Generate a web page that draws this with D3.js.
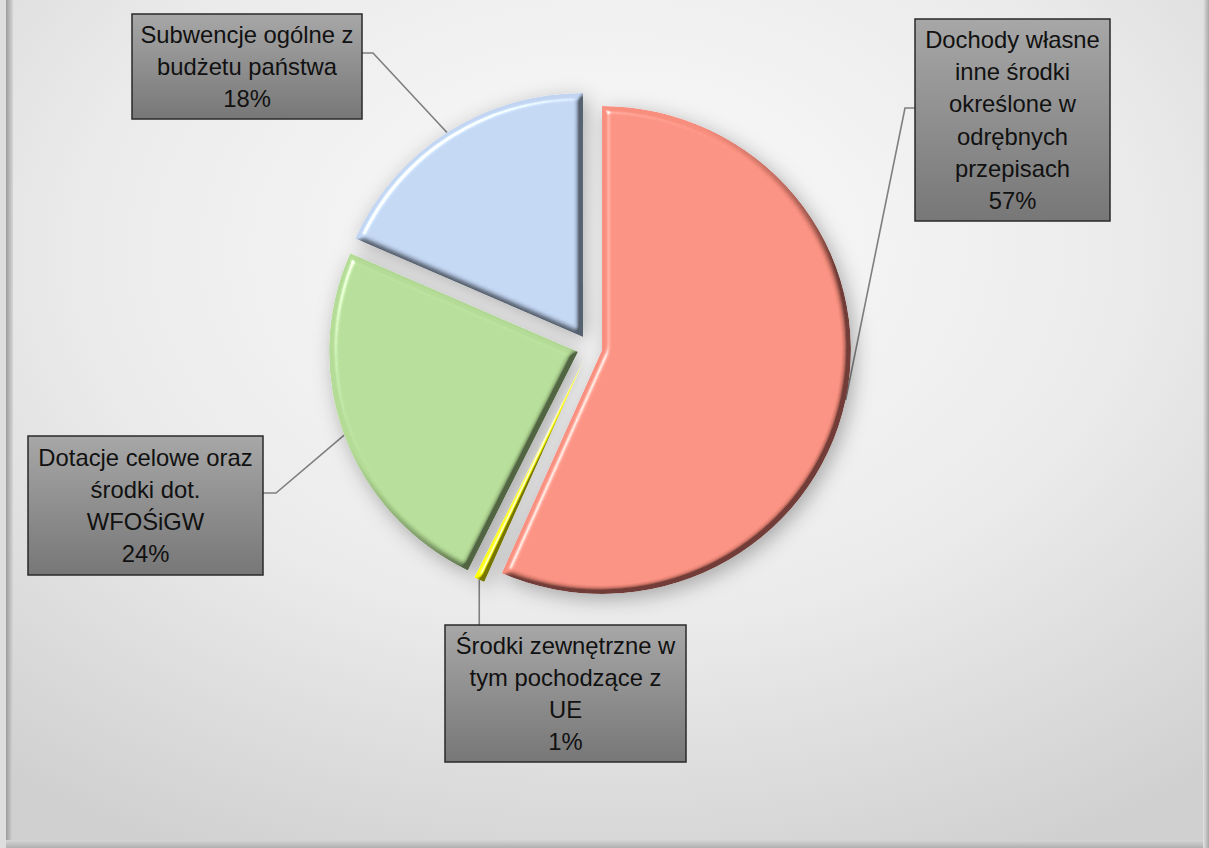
<!DOCTYPE html>
<html>
<head>
<meta charset="utf-8">
<script src="https://cdn.jsdelivr.net/npm/d3@7"></script>
<style>
  html, body { margin: 0; padding: 0; background: #fff; }
  svg { display: block; }
</style>
</head>
<body>
<svg id="chart" width="1209" height="848"></svg>
<script>
// ---- data ----
const categories = [
  "Dochody własne inne środki określone w odrębnych przepisach",
  "Środki zewnętrzne w tym pochodzące z UE",
  "Dotacje celowe oraz środki dot. WFOŚiGW",
  "Subwencje ogólne z budżetu państwa"
];
const labelLines = [
  ["Dochody własne", "inne środki", "określone w", "odrębnych", "przepisach"],
  ["Środki zewnętrzne w", "tym pochodzące z", "UE"],
  ["Dotacje celowe oraz", "środki dot.", "WFOŚiGW"],
  ["Subwencje ogólne z", "budżetu państwa"]
];
const values = [56.6, 0.7, 24.3, 18.4];
const colors = ["#F88E7E", "#FFFF00", "#B4DC96", "#C1D5F2"];

// ---- layout (not data) ----
const W = 1209, H = 848;
const center = [589.8, 347.4];
const radius = 244;
const xStretch = 1.02;
const explode = 12.5;
const boxes = [
  {x: 915, y: 19, w: 195, h: 202, ex: 905, ey: 108, sx: 915},
  {x: 445, y: 625, w: 241, h: 137, ex: null, ey: 625, sx: null},
  {x: 28,  y: 436, w: 235, h: 139, ex: 276, ey: 493, sx: 263},
  {x: 132, y: 14,  w: 230, h: 105, ex: 373, ey: 53, sx: 362}
];
const lineGap = 32.3;

const svg = d3.select("#chart");
const defs = svg.append("defs");

const bg = defs.append("radialGradient").attr("id", "bg")
  .attr("cx", "50%").attr("cy", "30%").attr("r", "80%");
bg.append("stop").attr("offset", "0%").attr("stop-color", "#fbfbfb");
bg.append("stop").attr("offset", "55%").attr("stop-color", "#ebebeb");
bg.append("stop").attr("offset", "100%").attr("stop-color", "#d0d0d0");

const leftEdge = defs.append("linearGradient").attr("id", "leftEdge")
  .attr("x1", 0).attr("x2", 1).attr("y1", 0).attr("y2", 0);
leftEdge.append("stop").attr("offset", "0%").attr("stop-color", "#9c9c9c");
leftEdge.append("stop").attr("offset", "100%").attr("stop-color", "#d6d6d6");
const rightEdge = defs.append("linearGradient").attr("id", "rightEdge")
  .attr("x1", 0).attr("x2", 1).attr("y1", 0).attr("y2", 0);
rightEdge.append("stop").attr("offset", "0%").attr("stop-color", "#e2e2e2");
rightEdge.append("stop").attr("offset", "100%").attr("stop-color", "#a8a8a8");
const bottomEdge = defs.append("linearGradient").attr("id", "bottomEdge")
  .attr("x1", 0).attr("x2", 0).attr("y1", 0).attr("y2", 1);
bottomEdge.append("stop").attr("offset", "0%").attr("stop-color", "#d6d6d6");
bottomEdge.append("stop").attr("offset", "100%").attr("stop-color", "#b0b0b0");

const boxG = defs.append("linearGradient").attr("id", "boxG")
  .attr("x1", 0).attr("x2", 0).attr("y1", 0).attr("y2", 1);
boxG.append("stop").attr("offset", "0%").attr("stop-color", "#a7a7a7");
boxG.append("stop").attr("offset", "100%").attr("stop-color", "#777777");

// bevel filter
const bev = defs.append("filter").attr("id", "bevel")
  .attr("x", "-10%").attr("y", "-10%").attr("width", "120%").attr("height", "120%");
bev.append("feGaussianBlur").attr("in", "SourceAlpha").attr("stdDeviation", 3.4).attr("result", "b");
const dl = bev.append("feDiffuseLighting").attr("in", "b").attr("surfaceScale", 8)
  .attr("diffuseConstant", 1 / Math.sin(35 * Math.PI / 180)).attr("lighting-color", "#fff").attr("result", "d");
dl.append("feDistantLight").attr("azimuth", 225).attr("elevation", 35);
bev.append("feComposite").attr("in", "SourceGraphic").attr("in2", "d").attr("operator", "arithmetic")
  .attr("k1", 0.82).attr("k2", 0.18).attr("k3", 0).attr("k4", 0).attr("result", "shade");
const sl = bev.append("feSpecularLighting").attr("in", "b").attr("surfaceScale", 8)
  .attr("specularConstant", 0.8).attr("specularExponent", 28).attr("lighting-color", "#fff").attr("result", "s");
sl.append("feDistantLight").attr("azimuth", 225).attr("elevation", 35);
bev.append("feComposite").attr("in", "s").attr("in2", "SourceAlpha").attr("operator", "in").attr("result", "s2");
bev.append("feComposite").attr("in", "shade").attr("in2", "s2").attr("operator", "arithmetic")
  .attr("k1", 0).attr("k2", 1).attr("k3", 1).attr("k4", 0).attr("result", "lit");
bev.append("feComposite").attr("in", "lit").attr("in2", "SourceAlpha").attr("operator", "in");

const sh = defs.append("filter").attr("id", "shadow")
  .attr("filterUnits", "userSpaceOnUse").attr("x", 0).attr("y", 0).attr("width", W).attr("height", H);
sh.append("feDropShadow").attr("dx", 4).attr("dy", 5).attr("stdDeviation", 10)
  .attr("flood-color", "#000").attr("flood-opacity", 0.3);

// frame + background
svg.append("rect").attr("x", 0).attr("y", 0).attr("width", W).attr("height", H).attr("fill", "#dedede");
svg.append("rect").attr("x", 13).attr("y", 0).attr("width", W - 19).attr("height", H - 8).attr("fill", "url(#bg)");
svg.append("rect").attr("x", 6).attr("y", 0).attr("width", 7).attr("height", H - 2).attr("fill", "url(#leftEdge)");
svg.append("rect").attr("x", W - 6).attr("y", 0).attr("width", 6).attr("height", H).attr("fill", "url(#rightEdge)");
svg.append("rect").attr("x", 6).attr("y", H - 8).attr("width", W - 12).attr("height", 8).attr("fill", "url(#bottomEdge)");

// pie
const pie = d3.pie().sort(null).value(d => d.v).startAngle(0).endAngle(2 * Math.PI);
const data = values.map((v, i) => ({v, i, name: categories[i]}));
const arcs = pie(data);
const arcGen = d3.arc().innerRadius(0).outerRadius(radius);

function offsetOf(a) {
  const mid = (a.startAngle + a.endAngle) / 2;
  return [explode * Math.sin(mid), -explode * Math.cos(mid)];
}
function anchorOf(a) {
  const mid = (a.startAngle + a.endAngle) / 2;
  const o = offsetOf(a);
  return [center[0] + o[0] + xStretch * radius * Math.sin(mid), center[1] + o[1] - radius * Math.cos(mid)];
}

const leaders = svg.append("g");
arcs.forEach((a, i) => {
  const b = boxes[i];
  const an = anchorOf(a);
  const pts = b.ex === null
    ? [[an[0], an[1]], [an[0], b.y]]
    : [[an[0], an[1]], [b.ex, b.ey], [b.sx, b.ey]];
  leaders.append("path").attr("d", d3.line()(pts))
    .attr("fill", "none").attr("stroke", "#7f7f7f").attr("stroke-width", 1.6);
});

const pieG = svg.append("g").attr("filter", "url(#shadow)");
pieG.selectAll("g.slice").data(arcs).join("g").attr("class", "slice")
  .attr("transform", d => {
    const o = offsetOf(d);
    return `translate(${center[0] + o[0]},${center[1] + o[1]}) scale(${xStretch},1)`;
  })
  .append("path")
  .attr("d", arcGen)
  .attr("fill", d => colors[d.data.i])
  .attr("filter", "url(#bevel)");

// labels
const total = d3.sum(values);
const lg = svg.append("g");
arcs.forEach((a, i) => {
  const b = boxes[i];
  const g = lg.append("g");
  g.append("rect").attr("x", b.x).attr("y", b.y).attr("width", b.w).attr("height", b.h)
    .attr("fill", "url(#boxG)").attr("stroke", "#2a2a2a").attr("stroke-width", 1.5);
  const lines = labelLines[i].concat([Math.round(values[i] / total * 100) + "%"]);
  const cx = b.x + b.w / 2;
  const cy = b.y + b.h / 2;
  const y0 = cy - (lines.length - 1) * lineGap / 2;
  lines.forEach((t, k) => {
    g.append("text").attr("x", cx).attr("y", y0 + k * lineGap)
      .attr("text-anchor", "middle").attr("dominant-baseline", "central")
      .attr("font-family", "'Liberation Sans', Arial, sans-serif").attr("font-size", 23.8)
      .attr("fill", "#111").text(t);
  });
});
</script>
</body>
</html>
